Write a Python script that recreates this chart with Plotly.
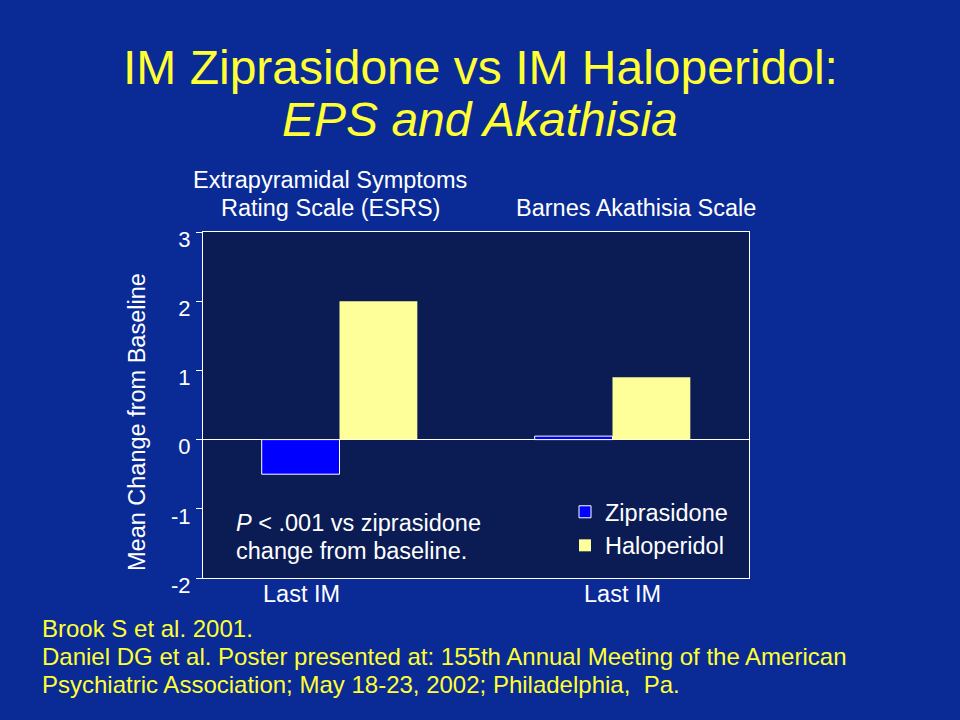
import plotly.graph_objects as go

categories = ["ESRS", "Barnes"]
ziprasidone = [-0.5, 0.05]
haloperidol = [2.0, 0.9]
y_ticks = [-2, -1, 0, 1, 2, 3]
y_tick_text = ["-2", "-1", "0", "1", "2", "3"]
x_label = "Last IM"
y_title = "Mean Change from Baseline"

FONT = "Liberation Sans, Arial, sans-serif"
PAGE_BG = "#0A2A96"
PLOT_BG = "#0B1C55"
YELLOW = "#FFFF33"
TS = 23.5

# plot area in pixels
L, R, T, B = 203, 749, 232, 578
W, H = 960, 720


def px(x):
    return (x - L) / (R - L)


def py(y):
    return (B - y) / (B - T)


fig = go.Figure()
fig.add_trace(go.Bar(x=categories, y=ziprasidone, name="Ziprasidone",
                     marker=dict(color="#0000FF", line=dict(color="white", width=1))))
fig.add_trace(go.Bar(x=categories, y=haloperidol, name="Haloperidol",
                     marker=dict(color="#FFFF99", line=dict(color="#FFFF99", width=0))))

fig.update_layout(
    width=W, height=H,
    paper_bgcolor=PAGE_BG, plot_bgcolor=PLOT_BG,
    margin=dict(l=L, r=W - R, t=T, b=H - B),
    barmode="group", bargap=0.43, bargroupgap=0,
    font=dict(family=FONT, color="white", size=TS),
    showlegend=True,
    legend=dict(x=px(565), y=py(490), xanchor="left", yanchor="top",
                bgcolor="rgba(0,0,0,0)", font=dict(size=TS, color="white"),
                itemwidth=30, tracegroupgap=0),
    xaxis=dict(showticklabels=False, ticks="", showgrid=False,
               showline=True, linecolor="white", linewidth=1, mirror=True,
               range=[-0.5, 1.5]),
    yaxis=dict(range=[-2, 3], tickvals=y_ticks, ticktext=y_tick_text,
               ticks="outside", ticklen=6,
               tickcolor="white", tickfont=dict(size=22, color="white"),
               showgrid=False, zeroline=True, zerolinecolor="white", zerolinewidth=1,
               showline=True, linecolor="white", linewidth=1, mirror=True,
               ticklabelstandoff=1, ticklabelshift=7),
)

ann = []


def txt(x, y, text, size=TS, color="white", anchor="center", angle=0):
    ann.append(dict(xref="paper", yref="paper", x=px(x), y=py(y), xanchor=anchor,
                    yanchor="middle", align=anchor if anchor != "center" else "center",
                    text=text, showarrow=False, textangle=angle,
                    font=dict(size=size, color=color, family=FONT)))


txt(480, 68, "IM Ziprasidone vs IM Haloperidol:", size=48, color=YELLOW)
txt(480, 119, "<i>EPS and Akathisia</i>", size=48, color=YELLOW)
txt(330, 180, "Extrapyramidal Symptoms")
txt(330, 208, "Rating Scale (ESRS)")
txt(636, 208, "Barnes Akathisia Scale")
txt(137, 422, y_title, angle=-90)
for xc in [-0.14, 1.035]:
    ann.append(dict(xref="x", yref="paper", x=xc, y=py(594), xanchor="center", yanchor="middle",
                    text=x_label, showarrow=False, font=dict(size=TS, color="white", family=FONT)))
txt(234, 523, "<i>P</i> < .001 vs ziprasidone", anchor="left")
txt(234, 551, "change from baseline.", anchor="left")
txt(40, 628, "Brook S et al. 2001.", size=24, color=YELLOW, anchor="left")
txt(40, 656, "Daniel DG et al. Poster presented at: 155th Annual Meeting of the American",
    size=24, color=YELLOW, anchor="left")
txt(40, 684, "Psychiatric Association; May 18-23, 2002; Philadelphia,  Pa.",
    size=24, color=YELLOW, anchor="left")
fig.update_layout(annotations=ann)

fig.write_html("out.html", config={"displayModeBar": False},
               post_script="document.body.style.margin='0';")
